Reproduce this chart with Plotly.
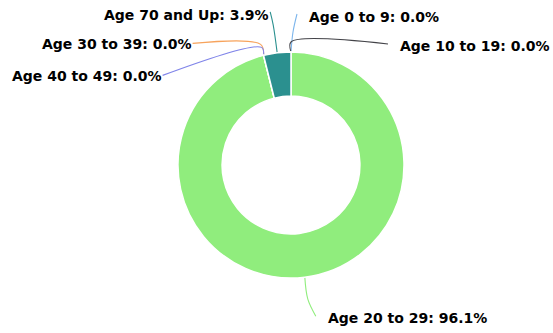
import math
import plotly.graph_objects as go

# Age distribution (percent of total)
categories = ["Age 0 to 9", "Age 10 to 19", "Age 20 to 29", "Age 30 to 39",
              "Age 40 to 49", "Age 70 and Up"]
values = [0.0, 0.0, 96.1, 0.0, 0.0, 3.9]
colors = ["#7cb5ec", "#434348", "#90ed7d", "#f7a35c", "#8085e9", "#2b908f"]

# Leader-line styling per label: first leg (dx1, dy1), second leg (dx2, dy2),
# text side, horizontal offset and vertical nudge of the text.
leader = {
    "Age 0 to 9":    (2, -20, 4, -18, "left", 10, 3),
    "Age 10 to 19":  (0, -10, 97, 2, "left", 10, 2),
    "Age 20 to 29":  (3, 22, 8, 17, "left", 10, 2),
    "Age 30 to 39":  (-3, -11, -68, -1, "right", 1, 1),
    "Age 40 to 49":  (-2, -8, -99, 28, "right", 1, 1),
    "Age 70 and Up": (-4, -28, -3, -13, "right", 1, 3),
}

W, H = 553, 333
CX, CY, R = 291, 165, 113
HOLE = 0.61

fig = go.Figure()
fig.add_trace(go.Pie(
    labels=categories, values=values, sort=False, direction="clockwise",
    rotation=0, hole=HOLE, textinfo="none", hoverinfo="label+percent",
    marker=dict(colors=colors, line=dict(color="white", width=1.5)),
    domain=dict(x=[(CX - R) / W, (CX + R) / W],
                y=[1 - (CY + R) / H, 1 - (CY - R) / H]),
    showlegend=False,
))

total = sum(values)
annotations = []
cum = 0.0
for cat, val, col in zip(categories, values, colors):
    mid = (cum + val / 2) / total * 2 * math.pi
    cum += val
    x0 = CX + R * math.sin(mid)
    y0 = CY - R * math.cos(mid)
    dx1, dy1, dx2, dy2, side, gap, tdy = leader[cat]
    x1, y1 = x0 + dx1, y0 + dy1
    x2, y2 = x1 + dx2, y1 + dy2
    fig.add_trace(go.Scatter(
        x=[x0, x1, x2], y=[y0, y1, y2], mode="lines",
        line=dict(color=col, width=1.1, shape="spline", smoothing=1.0),
        hoverinfo="skip", showlegend=False, xaxis="x", yaxis="y",
    ))
    pct = val / total * 100
    annotations.append(dict(
        x=x2 + gap, y=y2 + tdy, xref="x", yref="y",
        text=f"<b>{cat}: {pct:.1f}%</b>", showarrow=False,
        xanchor="left" if side == "left" else "right", yanchor="middle",
        font=dict(family="DejaVu Sans", size=14, color="#000000"),
    ))

fig.update_layout(
    width=W, height=H, margin=dict(l=0, r=0, t=0, b=0),
    paper_bgcolor="white", plot_bgcolor="rgba(0,0,0,0)",
    xaxis=dict(range=[0, W], visible=False, fixedrange=True),
    yaxis=dict(range=[H, 0], visible=False, fixedrange=True),
    annotations=annotations,
    font=dict(family="DejaVu Sans"),
)

fig.write_html("out.html")
